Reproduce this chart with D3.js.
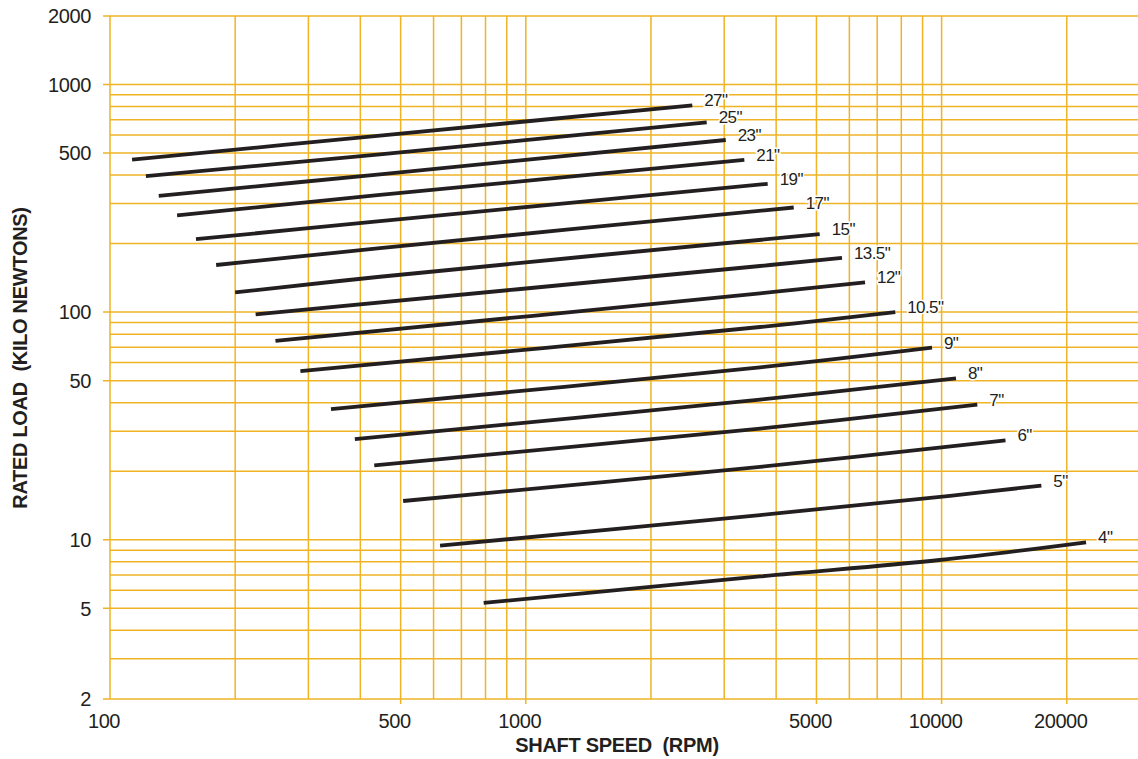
<!DOCTYPE html>
<html>
<head>
<meta charset="utf-8">
<script src="https://cdn.jsdelivr.net/npm/d3@7"></script>
<style>
  html, body { margin: 0; padding: 0; background: #fff; }
  svg { display: block; font-family: "Liberation Sans", Arial, Helvetica, sans-serif; }
</style>
</head>
<body>
<svg id="chart" width="1138" height="759"></svg>
<script>
// ---------- data ----------
const sizeLabels = ['27"', '25"', '23"', '21"', '19"', '17"', '15"', '13.5"', '12"', '10.5"', '9"', '8"', '7"', '6"', '5"', '4"'];

// each curve: list of [shaft speed (RPM), rated load (kN)]
const curvePoints = [
  [[113, 467], [446, 596], [2514, 810]],
  [[122, 396], [446, 493], [2723, 682]],
  [[131, 324], [446, 403], [3026, 570]],
  [[145, 266], [446, 327], [3354, 466]],
  [[161, 209], [446, 251], [3817, 366]],
  [[180, 161], [446, 191], [4409, 288]],
  [[200, 122], [446, 143], [5091, 220]],
  [[224, 97.8], [3659, 159.4], [5760, 173]],
  [[250, 74.7], [3659, 120.9], [6544, 135]],
  [[287, 55.1], [3659, 86.0], [7737, 100]],
  [[340, 37.5], [3659, 57.2], [9483, 69.8]],
  [[388, 27.7], [3659, 41.3], [10830, 51.2]],
  [[432, 21.2], [3659, 30.8], [12186, 39.2]],
  [[507, 14.8], [3659, 20.9], [14245, 27.3]],
  [[622, 9.42], [3659, 12.84], [10476, 15.6], [17374, 17.3]],
  [[792, 5.28], [3659, 6.90], [9900, 8.15], [22251, 9.75]]
];

const xTickValues = [100, 500, 1000, 5000, 10000, 20000];
const yTickValues = [2, 5, 10, 50, 100, 500, 1000, 2000];
const xGridValues = [100, 200, 300, 400, 500, 600, 700, 800, 900,
                     1000, 2000, 3000, 4000, 5000, 6000, 7000, 8000, 9000,
                     10000, 20000];
const yGridValues = [2, 3, 4, 5, 6, 7, 8, 9, 10, 20, 30, 40, 50, 60, 70, 80, 90,
                     100, 200, 300, 400, 500, 600, 700, 800, 900, 1000, 2000];

// ---------- layout ----------
const svg = d3.select('#chart');
const W = 1138;
const plotLeft = 110, plotRight = 1140, plotTop = 15.9, plotBottom = 698.9;
const gridColor = '#EFB324';
const ink = '#231f20';

const x = d3.scaleLog().domain([100, 30000]).range([plotLeft, plotRight]);
const y = d3.scaleLog().domain([2, 2000]).range([plotBottom, plotTop]);

// ---------- grid ----------
const grid = svg.append('g');
grid.selectAll('line.v').data(xGridValues).join('line')
  .attr('class', 'v')
  .attr('x1', d => x(d)).attr('x2', d => x(d))
  .attr('y1', plotTop)
  .attr('y2', d => xTickValues.includes(d) && d !== 100 ? plotBottom + 5 : plotBottom)
  .attr('stroke', gridColor).attr('stroke-width', 1.5);

grid.selectAll('line.h').data(yGridValues).join('line')
  .attr('class', 'h')
  .attr('y1', d => y(d)).attr('y2', d => y(d))
  .attr('x1', d => yTickValues.includes(d) ? plotLeft - 7 : plotLeft)
  .attr('x2', W)
  .attr('stroke', gridColor).attr('stroke-width', 1.5);

// ---------- tick labels ----------
svg.append('g').selectAll('text').data(yTickValues).join('text')
  .attr('x', 91).attr('y', d => y(d)).attr('dy', '0.36em')
  .attr('text-anchor', 'end')
  .attr('font-size', 20).attr('letter-spacing', -0.4)
  .attr('fill', ink)
  .text(d => d);

svg.append('g').selectAll('text').data(xTickValues).join('text')
  .attr('x', d => x(d) - 6).attr('y', 728)
  .attr('text-anchor', 'middle')
  .attr('font-size', 20).attr('letter-spacing', -0.4)
  .attr('fill', ink)
  .text(d => d);

// ---------- axis titles ----------
svg.append('text')
  .attr('x', 617).attr('y', 751.5)
  .attr('text-anchor', 'middle')
  .attr('font-size', 20).attr('font-weight', 'bold').attr('letter-spacing', -0.3)
  .style('white-space', 'pre')
  .attr('fill', ink)
  .text('SHAFT SPEED  (RPM)');

svg.append('text')
  .attr('transform', 'translate(27,358) rotate(-90)')
  .attr('text-anchor', 'middle')
  .attr('font-size', 20).attr('font-weight', 'bold').attr('letter-spacing', -0.3)
  .style('white-space', 'pre')
  .attr('fill', ink)
  .text('RATED LOAD  (KILO NEWTONS)');

// ---------- curves ----------
const line = d3.line()
  .x(d => x(d[0])).y(d => y(d[1]))
  .curve(d3.curveCatmullRom.alpha(0.5));

const curves = svg.append('g');
curves.selectAll('path').data(curvePoints).join('path')
  .attr('d', line)
  .attr('fill', 'none')
  .attr('stroke', ink)
  .attr('stroke-width', 3.8);

// ---------- curve labels ----------
const labels = svg.append('g');
labels.selectAll('text').data(curvePoints).join('text')
  .attr('x', d => x(d[d.length - 1][0]) + 12)
  .attr('y', d => y(d[d.length - 1][1]) + 1)
  .attr('font-size', 17).attr('letter-spacing', -0.6)
  .attr('fill', ink)
  .attr('stroke', '#fff').attr('stroke-width', 3).attr('paint-order', 'stroke')
  .text((d, i) => sizeLabels[i]);
</script>
</body>
</html>
